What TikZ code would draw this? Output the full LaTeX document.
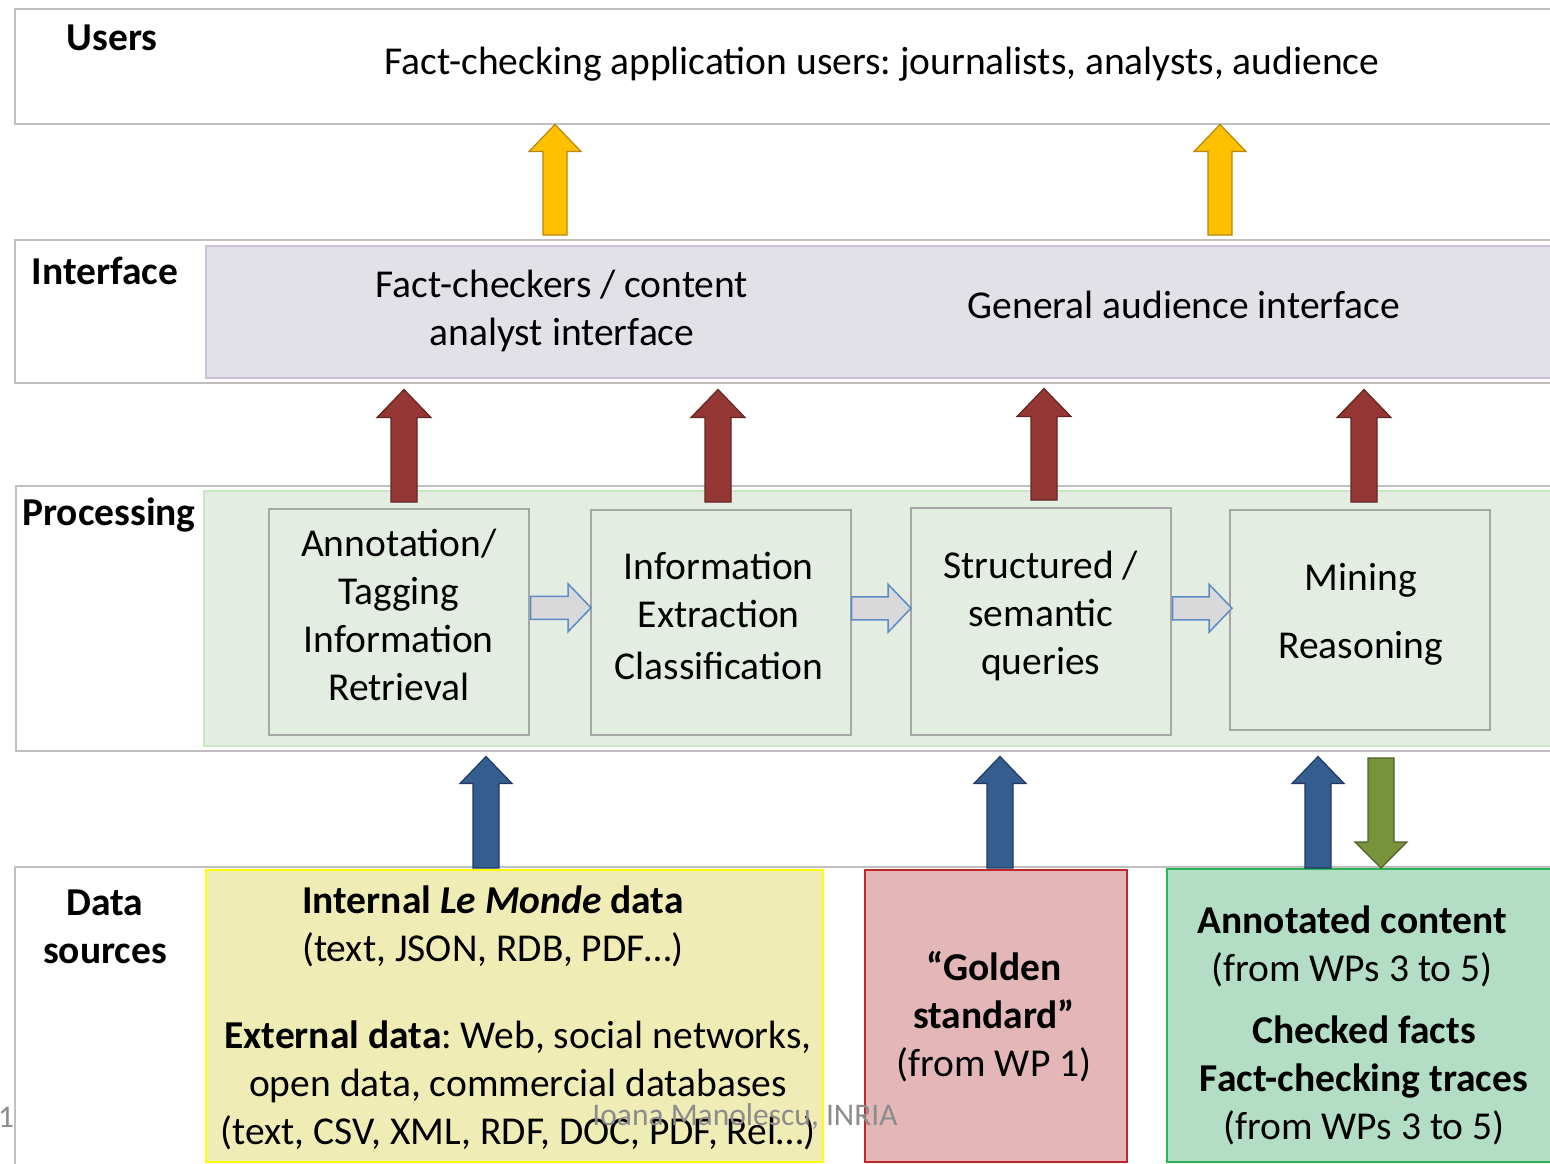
\documentclass[tikz,border=0pt]{standalone}
\usepackage{fontspec}
\setmainfont{Carlito}
\usetikzlibrary{calc}
\frenchspacing
\definecolor{bandline}{HTML}{BFBFBF}
\definecolor{ifill}{HTML}{E3E1E8}
\definecolor{iline}{HTML}{CCC0DA}
\definecolor{pfill}{HTML}{E3EDE1}
\definecolor{pline}{HTML}{C6E9C4}
\definecolor{boxline}{HTML}{A6A6A6}
\definecolor{yfill}{HTML}{EFEDB5}
\definecolor{yline}{HTML}{FFFF00}
\definecolor{rfill}{HTML}{E3B6B7}
\definecolor{rline}{HTML}{C0272D}
\definecolor{gfill}{HTML}{B4DDC6}
\definecolor{gline}{HTML}{2DB457}
\definecolor{yarr}{HTML}{FFC000}
\definecolor{yarrl}{HTML}{B8860B}
\definecolor{rarr}{HTML}{953735}
\definecolor{rarrl}{HTML}{632523}
\definecolor{barr}{HTML}{345E8E}
\definecolor{barrl}{HTML}{1F3864}
\definecolor{garr}{HTML}{77933C}
\definecolor{garrl}{HTML}{4F6228}
\definecolor{sarr}{HTML}{D9D9D9}
\definecolor{sarrl}{HTML}{5B8BC9}
\definecolor{foot}{HTML}{8C8C8C}
\newcommand\blockarrow[6]{%
  \coordinate (ba-s) at #2;
  \coordinate (ba-e) at #3;
  \coordinate (ba-h) at ($(ba-e)!#6!(ba-s)$);
  \draw[#1] ($(ba-s)!#4!90:(ba-e)$) -- ($(ba-h)!#4!-90:(ba-s)$) -- ($(ba-h)!#5!-90:(ba-s)$)
    -- (ba-e) -- ($(ba-h)!#5!90:(ba-s)$) -- ($(ba-h)!#4!90:(ba-s)$) -- ($(ba-s)!#4!-90:(ba-e)$) -- cycle;
}
\newcommand\bigf{\fontsize{39.5}{48}\selectfont\frenchspacing}
\begin{document}
\begin{tikzpicture}[x=1pt,y=-1pt,
  band/.style={draw=bandline, line width=1.5pt, fill=white},
  lab/.style={font=\bigf\bfseries, align=center, inner sep=0pt},
  txt/.style={font=\bigf, align=center, inner sep=0pt},
  pbox/.style={draw=boxline, line width=1.5pt, fill=pfill, anchor=north west, inner sep=0pt},
  yarrow/.style={fill=yarr, draw=yarrl, line width=1.2pt, line join=miter},
  rarrow/.style={fill=rarr, draw=rarrl, line width=1.2pt},
  barrow/.style={fill=barr, draw=barrl, line width=1.2pt},
  garrow/.style={fill=garr, draw=garrl, line width=1.2pt},
  sarrow/.style={fill=sarr, draw=sarrl, line width=1.5pt},
  foottxt/.style={font=\fontsize{31.5}{36}\selectfont, text=foot, inner sep=0pt}]
\useasboundingbox (0,0) rectangle (1550,1163);
\clip (0,0) rectangle (1550,1163);
\fill[white] (0,0) rectangle (1550,1163);

% bands
\node[band, anchor=north west, minimum width=1560pt, minimum height=115pt, inner sep=0pt] (users) at (14,8) {};
\node[band, anchor=north west, minimum width=1560pt, minimum height=143pt, inner sep=0pt] (iface) at (14,239) {};
\node[band, anchor=north west, minimum width=1560pt, minimum height=265pt, inner sep=0pt] (proc) at (15,485) {};
\node[band, anchor=north west, minimum width=1560pt, minimum height=320pt, inner sep=0pt] (data) at (14,866) {};

% inner areas
\node[draw=iline, line width=1.5pt, fill=ifill, anchor=north west, minimum width=1400pt, minimum height=132pt, inner sep=0pt] (ifin) at (205,245) {};
\node[draw=pline, line width=1.5pt, fill=pfill, anchor=north west, minimum width=1400pt, minimum height=255pt, inner sep=0pt] (prin) at (203,490) {};

% labels
\node[lab] (lusers) at (112,38) {Users};
\node[txt] (tusers) at (882,64) {Fact-checking application users: journalists, analysts, audience};
\node[lab] (liface) at (105,271) {Interface};
\node[txt] (tif1) at (562,311) {Fact-checkers / content\\analyst interface};
\node[txt] (tif2) at (1184,305) {General audience interface};
\node[lab] (lproc) at (109,515) {Processing};
\node[lab] (ldata) at (105,927) {Data\\sources};

% processing boxes
\node[pbox, minimum width=260pt, minimum height=226pt] (p1) at (268,508) {};
\node[pbox, minimum width=260pt, minimum height=225pt] (p2) at (590,509) {};
\node[pbox, minimum width=260pt, minimum height=227pt] (p3) at (910,507) {};
\node[pbox, minimum width=260pt, minimum height=220pt] (p4) at (1229,509) {};
\node[txt] (tp1) at ($(p1.center)+(0,-7)$) {Annotation/\\Tagging\\Information\\Retrieval};
\node[txt] (tp2) at ($(p2.center)+(-2,-6)$) {Information\\Extraction\\[4pt]Classification};
\node[txt] (tp3) at ($(p3.center)+(0,-5)$) {Structured /\\semantic\\queries};
\node[txt] (tp4) at ($(p4.center)+(1,-5)$) {Mining\\[20pt]Reasoning};

% data boxes
\node[draw=yline, line width=1.5pt, fill=yfill, anchor=north west, minimum width=617pt, minimum height=292pt, inner sep=0pt] (ybox) at (205,869) {};
\node[draw=rline, line width=1.5pt, fill=rfill, anchor=north west, minimum width=262pt, minimum height=292pt, inner sep=0pt] (rbox) at (864,869) {};
\node[draw=gline, line width=1.5pt, fill=gfill, anchor=north west, minimum width=400pt, minimum height=293pt, inner sep=0pt] (gbox) at (1166,868) {};

\node[txt] (ty1) at (493,926) {\textbf{Internal \textit{Le Monde} data}\\(text, JSON, RDB, PDF…)};
\node[txt] (ty2) at (518,1085) {\textbf{External data}: Web, social networks,\\open data, commercial databases\\(text, CSV, XML, RDF, DOC, PDF, Rel…)};
\node[txt] (tr) at (994,1017) {\textbf{“Golden}\\\textbf{standard”}\\(from WP 1)};
\node[txt] (tg1) at (1352,946) {\textbf{Annotated content}\\(from WPs 3 to 5)};
\node[txt] (tg2) at (1364,1080) {\textbf{Checked facts}\\\textbf{Fact-checking traces}\\(from WPs 3 to 5)};

% arrows users <- interface
\coordinate (ya1) at (555,235);
\coordinate (ya2) at (1220,235);
\blockarrow{yarrow}{(ya1)}{(ya1|-users.south)}{12pt}{26pt}{27pt}
\blockarrow{yarrow}{(ya2)}{(ya2|-users.south)}{12pt}{26pt}{27pt}

% arrows interface <- processing
\coordinate (ra1) at (404,502);
\coordinate (ra2) at (718,502);
\coordinate (ra3) at (1044,500);
\coordinate (ra4) at (1364,502);
\blockarrow{rarrow}{(ra1)}{($(ra1|-iface.south)+(0,6)$)}{13pt}{27pt}{28pt}
\blockarrow{rarrow}{(ra2)}{($(ra2|-iface.south)+(0,6)$)}{13pt}{27pt}{28pt}
\blockarrow{rarrow}{(ra3)}{($(ra3|-iface.south)+(0,5)$)}{13pt}{27pt}{28pt}
\blockarrow{rarrow}{(ra4)}{($(ra4|-iface.south)+(0,6)$)}{13pt}{27pt}{28pt}

% arrows between processing boxes
\coordinate (sa1) at ($(p1.east)+(1,-14)$);
\coordinate (sa2) at ($(p2.east)+(0,-14)$);
\coordinate (sa3) at ($(p3.east)+(1,-13)$);
\blockarrow{sarrow}{(sa1)}{($(sa1-|p2.west)+(1,0)$)}{11.5pt}{24pt}{23pt}
\blockarrow{sarrow}{(sa2)}{($(sa2-|p3.west)+(1,0)$)}{11.5pt}{24pt}{23pt}
\blockarrow{sarrow}{(sa3)}{($(sa3-|p4.west)+(3,0)$)}{11.5pt}{24pt}{23pt}

% arrows processing <- data
\coordinate (ba1) at (486,868);
\coordinate (ba2) at (1000,868);
\coordinate (ba3) at (1318,868);
\blockarrow{barrow}{(ba1)}{($(ba1|-proc.south)+(0,5)$)}{13pt}{26pt}{27pt}
\blockarrow{barrow}{(ba2)}{($(ba2|-proc.south)+(0,5)$)}{13pt}{26pt}{27pt}
\blockarrow{barrow}{(ba3)}{($(ba3|-proc.south)+(0,5)$)}{13pt}{26pt}{27pt}
\coordinate (ga1) at (1381,758);
\blockarrow{garrow}{(ga1)}{(ga1|-gbox.north)}{13pt}{26pt}{26pt}

% footer
\node[foottxt] (pnum) at (6,1117) {1};
\node[foottxt] (author) at (745,1117) {Ioana Manolescu, INRIA};
\end{tikzpicture}
\end{document}
